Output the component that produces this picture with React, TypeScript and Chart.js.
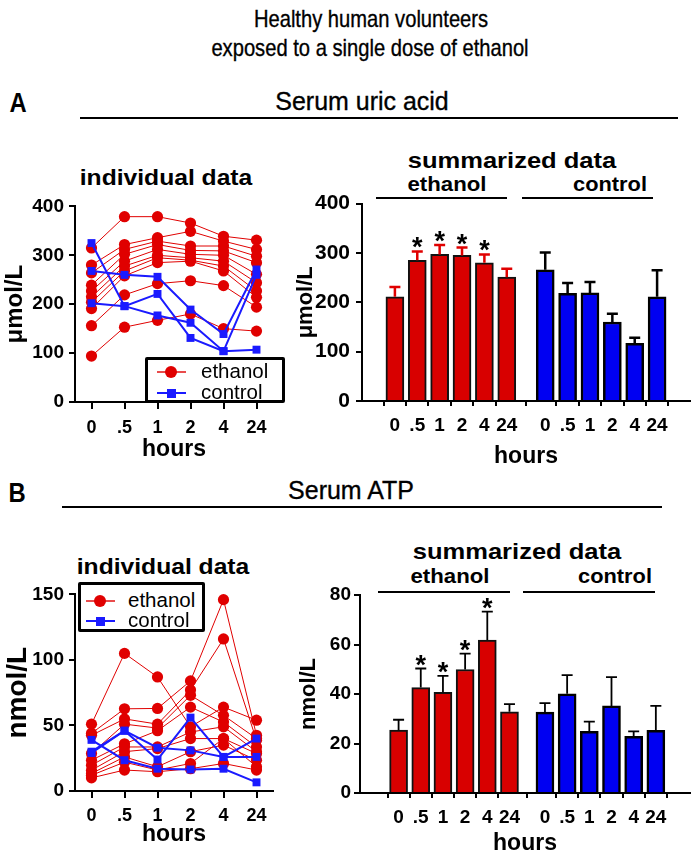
import React, { useEffect, useRef } from "react";
import { Chart, registerables } from "chart.js";
Chart.register(...registerables);

// ---------- data ----------
const hourLabels = ["0", ".5", "1", "2", "4", "24"];

// Serum uric acid, individual subjects (µmol/L)
const uaEthanolSubjects = [
  [315, 379, 379, 366, 339, 331],
  [280, 322, 336, 349, 329, 312],
  [264, 312, 329, 319, 319, 298],
  [239, 302, 322, 310, 309, 285],
  [227, 288, 312, 302, 300, 261],
  [215, 278, 300, 295, 288, 244],
  [204, 268, 295, 290, 278, 227],
  [191, 258, 285, 288, 268, 214],
  [156, 219, 242, 248, 238, 194],
  [94, 153, 167, 180, 150, 145],
];
const uaControlSubjects = [
  [325, 196, 221, 131, 104, 107],
  [202, 196, 177, 162, 104, 260],
  [268, 260, 256, 189, 139, 271],
];
// Serum uric acid, summarized (mean, SEM)
const uaEthanolMean = [211, 285, 297, 295, 280, 251];
const uaEthanolSem = [20, 18, 19, 16, 17, 17];
const uaControlMean = [266, 218, 219, 160, 117, 211];
const uaControlSem = [35, 21, 22, 17, 11, 54];
const uaSignificant = [false, true, true, true, true, false];

// Serum ATP, individual subjects (nmol/L)
const atpEthanolSubjects = [
  [51, 105, 87, 49, 64, 54],
  [44, 62.7, 63, 84, 146, 42.5],
  [42.5, 55, 51, 77, 116, 38.7],
  [28.6, 51, 48, 73, 57.7, 40],
  [23.5, 36, 46, 64, 52.6, 33.6],
  [19.7, 33.6, 33.6, 45, 49, 30],
  [15.9, 30, 32.4, 40, 40, 28.6],
  [13.4, 26, 18.5, 30, 35, 23.5],
  [12, 22, 16, 21, 40, 18.5],
  [10, 16, 14.7, 17, 21, 16],
];
const atpControlSubjects = [
  [29, 46, 24, 56, 26, 40],
  [30, 46, 33, 31, 26, 26],
  [39, 23.5, 17, 16.4, 17, 6.6],
];
// Serum ATP, summarized (mean, SEM)
const atpEthanolMean = [25.4, 42.6, 40.7, 49.9, 61.8, 32.8];
const atpEthanolSem = [4.2, 7.7, 6.6, 6.4, 11.5, 3.1];
const atpControlMean = [32.7, 40.1, 24.9, 35.2, 22.9, 25.3];
const atpControlSem = [3.6, 7.5, 3.9, 11.6, 2.0, 9.9];
const atpSignificant = [false, true, true, true, true, false];

// ---------- styles ----------
const SANS = '"Liberation Sans", Arial, Helvetica, sans-serif';
const RED_LINE = "#e00000";
const BLUE_LINE = "#1a1aff";
const RED_BAR = "#d80000";
const BLUE_BAR = "#0000f2";

function ChartCanvas(props: { left: number; top: number; width: number; height: number; make: () => any }) {
  const ref = useRef<HTMLCanvasElement>(null);
  useEffect(() => {
    const chart = new Chart(ref.current as HTMLCanvasElement, props.make());
    return () => chart.destroy();
  }, []);
  return (
    <canvas
      ref={ref}
      width={props.width}
      height={props.height}
      style={{ position: "absolute", left: props.left, top: props.top, width: props.width, height: props.height }}
    />
  );
}

function axisCommon(tickLength: number) {
  return {
    grid: { display: true, drawOnChartArea: false, drawTicks: true, tickLength, color: "#000", lineWidth: 2 },
    border: { display: true, color: "#000", width: 2 },
  };
}

function individualConfig(o: {
  ethanol: number[][];
  control: number[][];
  yMax: number;
  yStep: number;
  yTitle: string;
  yTitleSize: number;
  yTickSize: number;
  xTickPad: number;
  xHeight: number;
  hoursPad: number;
}) {
  return {
    type: "line",
    data: {
      labels: hourLabels,
      datasets: [
        ...o.control.map((s) => ({
          data: s,
          borderColor: BLUE_LINE,
          backgroundColor: BLUE_LINE,
          borderWidth: 2,
          pointStyle: "rect",
          pointRadius: 5.6,
          pointBorderWidth: 0,
          order: 0,
          clip: false,
        })),
        ...o.ethanol.map((s) => ({
          data: s,
          borderColor: RED_LINE,
          backgroundColor: RED_LINE,
          borderWidth: 1,
          pointStyle: "circle",
          pointRadius: 5.6,
          pointBorderWidth: 0,
          order: 1,
          clip: false,
        })),
      ],
    },
    options: {
      responsive: false,
      animation: false,
      layout: { padding: { top: 15, right: 27, left: 0, bottom: 0 } },
      plugins: { legend: { display: false }, tooltip: { enabled: false } },
      scales: {
        x: {
          type: "category",
          offset: true,
          ...axisCommon(7),
          ticks: { color: "#000", font: { family: SANS, size: 18, weight: "bold" }, padding: o.xTickPad, autoSkip: false, maxRotation: 0 },
          title: { display: true, text: "hours", color: "#000", font: { family: SANS, size: 23, weight: "bold" }, padding: { top: 0, bottom: o.hoursPad } },
          afterFit: (s: any) => {
            s.height = o.xHeight;
          },
        },
        y: {
          min: 0,
          max: o.yMax,
          ...axisCommon(6),
          ticks: { stepSize: o.yStep, color: "#000", font: { family: SANS, size: o.yTickSize, weight: "bold" }, padding: 5 },
          title: { display: true, text: o.yTitle, color: "#000", font: { family: SANS, size: o.yTitleSize, weight: "bold" }, padding: { top: 1, bottom: 0 } },
          afterFit: (s: any) => {
            s.width = 75;
          },
        },
      },
    },
  };
}

function summaryConfig(o: {
  ethMean: number[];
  ethSem: number[];
  ctlMean: number[];
  ctlSem: number[];
  sig: boolean[];
  ctlOffset: number;
  xMin: number;
  xMax: number;
  yMax: number;
  yStep: number;
  yTitle: string;
  yWidth: number;
  yTitlePad: number;
  yTickSize: number;
  yTickPad: number;
  xTickPad: number;
  xHeight: number;
  ethErrColor: string;
  errWidth: number;
}) {
  const ethPos = o.ethMean.map((_, i) => i);
  const ctlPos = o.ctlMean.map((_, i) => i + o.ctlOffset);
  const positions = [...ethPos, ...ctlPos];
  const sems = [o.ethSem, o.ctlSem];
  const errColors = [o.ethErrColor, "#000"];
  const errorBars = {
    id: "errorBars",
    afterDatasetsDraw(chart: any) {
      const ctx = chart.ctx;
      const yScale = chart.scales.y;
      chart.data.datasets.forEach((ds: any, di: number) => {
        const meta = chart.getDatasetMeta(di);
        meta.data.forEach((bar: any, i: number) => {
          const top = yScale.getPixelForValue(ds.data[i].y + sems[di][i]);
          ctx.save();
          ctx.strokeStyle = errColors[di];
          ctx.lineWidth = o.errWidth;
          ctx.beginPath();
          ctx.moveTo(bar.x, bar.y);
          ctx.lineTo(bar.x, top);
          ctx.moveTo(bar.x - 5.5, top);
          ctx.lineTo(bar.x + 5.5, top);
          ctx.stroke();
          if (di === 0 && o.sig[i]) {
            ctx.fillStyle = "#000";
            ctx.font = "bold 27px " + SANS;
            ctx.textAlign = "center";
            ctx.textBaseline = "alphabetic";
            ctx.fillText("*", bar.x, top + 5);
          }
          ctx.restore();
        });
      });
    },
  };
  return {
    type: "bar",
    data: {
      datasets: [
        {
          data: o.ethMean.map((v, i) => ({ x: ethPos[i], y: v })),
          backgroundColor: RED_BAR,
          borderColor: "#111",
          borderWidth: 2,
          barThickness: 18,
          grouped: false,
        },
        {
          data: o.ctlMean.map((v, i) => ({ x: ctlPos[i], y: v })),
          backgroundColor: BLUE_BAR,
          borderColor: "#000",
          borderWidth: 2.5,
          barThickness: 18,
          grouped: false,
        },
      ],
    },
    options: {
      responsive: false,
      animation: false,
      layout: { padding: { top: 16, right: 4, left: 0, bottom: 0 } },
      plugins: { legend: { display: false }, tooltip: { enabled: false } },
      scales: {
        x: {
          type: "linear",
          min: o.xMin,
          max: o.xMax,
          ...axisCommon(5),
          afterBuildTicks: (s: any) => {
            s.ticks = positions.map((v) => ({ value: v }));
          },
          ticks: {
            color: "#000",
            font: { family: SANS, size: 19, weight: "bold" },
            padding: o.xTickPad,
            autoSkip: false,
            maxRotation: 0,
            callback: (_v: any, i: number) => hourLabels[i % hourLabels.length],
          },
          title: { display: true, text: "hours", color: "#000", font: { family: SANS, size: 23, weight: "bold" }, padding: { top: 0, bottom: 0 } },
          afterFit: (s: any) => {
            s.height = o.xHeight;
          },
        },
        y: {
          min: 0,
          max: o.yMax,
          ...axisCommon(6),
          ticks: { stepSize: o.yStep, color: "#000", font: { family: SANS, size: o.yTickSize, weight: "bold" }, padding: o.yTickPad },
          title: { display: true, text: o.yTitle, color: "#000", font: { family: SANS, size: 22, weight: "bold" }, padding: { top: o.yTitlePad, bottom: 0 } },
          afterFit: (s: any) => {
            s.width = o.yWidth;
          },
        },
      },
    },
    plugins: [errorBars],
  };
}

// ---------- html helpers ----------
function T(p: { x: number; y: number; size: number; bold?: boolean; sx?: number; stroke?: number; children: any }) {
  return (
    <div
      style={{
        position: "absolute",
        left: p.x,
        top: p.y,
        transform: `translate(-50%, -50%) scaleX(${p.sx || 1})`,
        whiteSpace: "nowrap",
        fontSize: p.size,
        fontWeight: p.bold ? 700 : 400,
        fontFamily: SANS,
        lineHeight: 1,
        color: "#000",
        WebkitTextStroke: p.stroke ? `${p.stroke}px #000` : undefined,
      }}
    >
      {p.children}
    </div>
  );
}

function HLine(p: { x1: number; x2: number; y: number; w?: number }) {
  const w = p.w || 2;
  return <div style={{ position: "absolute", left: p.x1, top: p.y - w / 2, width: p.x2 - p.x1, height: w, background: "#000" }} />;
}

function Legend(p: { left: number; top: number; width: number; height: number; rowY: number[]; symX: number; textX: number }) {
  const items = [
    { label: "ethanol", color: RED_LINE, round: true },
    { label: "control", color: BLUE_LINE, round: false },
  ];
  return (
    <div
      style={{
        position: "absolute",
        left: p.left,
        top: p.top,
        width: p.width,
        height: p.height,
        boxSizing: "border-box",
        border: "3.5px solid #000",
        borderRadius: 2,
        background: "#fff",
      }}
    >
      {items.map((it, i) => (
        <React.Fragment key={it.label}>
          <div style={{ position: "absolute", left: p.symX - 14 - p.left, top: p.rowY[i] - p.top - 1, width: 29, height: 2, background: it.color, opacity: it.round ? 0.7 : 1 }} />
          <div
            style={{
              position: "absolute",
              left: p.symX - p.left - (it.round ? 6 : 4.5),
              top: p.rowY[i] - p.top - (it.round ? 6 : 4.5),
              width: it.round ? 12 : 9,
              height: it.round ? 12 : 9,
              borderRadius: it.round ? "50%" : 0,
              background: it.color,
            }}
          />
          <div
            style={{
              position: "absolute",
              left: p.textX - p.left,
              top: p.rowY[i] - p.top,
              transform: "translateY(-55%)",
              fontFamily: SANS,
              fontSize: 20.5,
              lineHeight: 1,
              whiteSpace: "nowrap",
            }}
          >
            {it.label}
          </div>
        </React.Fragment>
      ))}
    </div>
  );
}

export default function App() {
  return (
    <div style={{ position: "absolute", left: 0, top: 0, width: 694, height: 857, background: "#fff", overflow: "hidden" }}>
      <T x={371} y={19} size={24} sx={0.84} stroke={0.35}>Healthy human volunteers</T>
      <T x={370} y={48} size={24} sx={0.84} stroke={0.35}>exposed to a single dose of ethanol</T>

      {/* Panel A */}
      <T x={18} y={103} size={28} bold sx={0.85}>A</T>
      <T x={362} y={101} size={26} sx={0.96} stroke={0.35}>Serum uric acid</T>
      <HLine x1={80} x2={678} y={118} w={2.5} />
      <T x={166} y={178} size={22} bold sx={1.12}>individual data</T>
      <T x={512} y={161} size={22} bold sx={1.16}>summarized data</T>
      <T x={447} y={184} size={20} bold sx={1.11}>ethanol</T>
      <T x={610} y={184} size={20} bold sx={1.09}>control</T>
      <HLine x1={376} x2={507} y={198} w={1.5} />
      <HLine x1={522} x2={653} y={198} w={1.5} />

      <ChartCanvas
        left={0}
        top={190}
        width={300}
        height={275}
        make={() =>
          individualConfig({
            ethanol: uaEthanolSubjects,
            control: uaControlSubjects,
            yMax: 400,
            yStep: 100,
            yTitle: "μmol/L",
            yTitleSize: 24,
            yTickSize: 19,
            xTickPad: 8,
            xHeight: 63,
            hoursPad: 2,
          })
        }
      />
      <ChartCanvas
        left={290}
        top={185}
        width={404}
        height={285}
        make={() =>
          summaryConfig({
            ethMean: uaEthanolMean,
            ethSem: uaEthanolSem,
            ctlMean: uaControlMean,
            ctlSem: uaControlSem,
            sig: uaSignificant,
            ctlOffset: 6.72,
            xMin: -0.86,
            xMax: 12.58,
            yMax: 400,
            yStep: 100,
            yTitle: "μmol/L",
            yWidth: 72,
            yTitlePad: 3,
            yTickSize: 21,
            yTickPad: 6,
            xTickPad: 8,
            xHeight: 69,
            ethErrColor: "#e00000",
            errWidth: 2.5,
          })
        }
      />
      <Legend left={145} top={357} width={140} height={46} rowY={[369, 390]} symX={168} textX={198} />

      {/* Panel B */}
      <T x={17} y={493} size={28} bold sx={0.85}>B</T>
      <T x={351} y={490} size={26} sx={0.96} stroke={0.35}>Serum ATP</T>
      <HLine x1={62} x2={662} y={507} w={2.5} />
      <T x={163} y={567} size={22} bold sx={1.12}>individual data</T>
      <T x={517} y={552} size={22} bold sx={1.16}>summarized data</T>
      <T x={450} y={576} size={20} bold sx={1.11}>ethanol</T>
      <T x={615} y={576} size={20} bold sx={1.09}>control</T>
      <HLine x1={378} x2={510} y={592} w={1.5} />
      <HLine x1={523} x2={655} y={592} w={1.5} />

      <ChartCanvas
        left={0}
        top={578}
        width={300}
        height={275}
        make={() =>
          individualConfig({
            ethanol: atpEthanolSubjects,
            control: atpControlSubjects,
            yMax: 150,
            yStep: 50,
            yTitle: "nmol/L",
            yTitleSize: 28,
            yTickSize: 19,
            xTickPad: 7,
            xHeight: 62,
            hoursPad: 5,
          })
        }
      />
      <ChartCanvas
        left={290}
        top={579}
        width={404}
        height={278}
        make={() =>
          summaryConfig({
            ethMean: atpEthanolMean,
            ethSem: atpEthanolSem,
            ctlMean: atpControlMean,
            ctlSem: atpControlSem,
            sig: atpSignificant,
            ctlOffset: 6.6,
            xMin: -1.12,
            xMax: 12.52,
            yMax: 80,
            yStep: 20,
            yTitle: "nmol/L",
            yWidth: 70,
            yTitlePad: 6,
            yTickSize: 19,
            yTickPad: 3,
            xTickPad: 8,
            xHeight: 64,
            ethErrColor: "#000",
            errWidth: 1.8,
          })
        }
      />
      <Legend left={78} top={582} width={127} height={50} rowY={[598, 618]} symX={97} textX={125} />
    </div>
  );
}
